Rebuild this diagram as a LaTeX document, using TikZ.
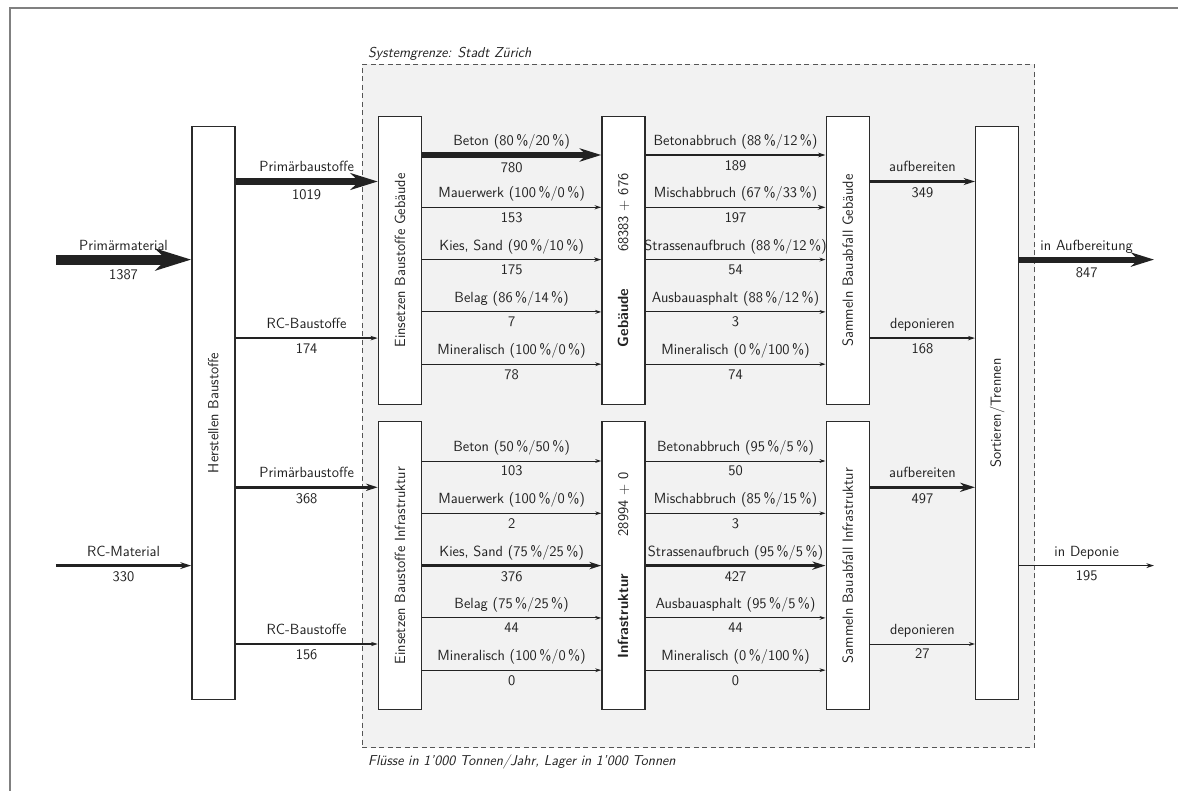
\documentclass[tikz,border=0pt]{standalone}
\usepackage{fontspec}
\usetikzlibrary{arrows.meta}
\definecolor{ink}{HTML}{222222}
\definecolor{boxc}{HTML}{2B2B2B}
\definecolor{framec}{HTML}{808080}
\definecolor{dashc}{HTML}{555555}
\definecolor{sysfill}{HTML}{F2F2F2}
\newcommand\flowarr[6]{\draw[flow=#3] (#1) -- node[lab] (#6l) {#4} node[num=#3] (#6n) {#5} (#2);}
\begin{document}
\begin{tikzpicture}[x=1pt,y=-1pt,
  font=\sffamily\fontsize{14.7}{17}\selectfont,
  box/.style={draw=boxc, fill=white, line width=1.4pt, minimum width=43pt, inner sep=0pt},
  rot/.style={rotate=90, inner sep=0pt, text=ink},
  flow/.style={draw=ink, line width=#1pt, -{Stealth[length=3pt 3.3, width=2pt 2.0, inset=1pt 1.0]}},
  lab/.style={anchor=base, yshift=9.5pt, inner sep=0pt, text=ink},
  num/.style={anchor=base, yshift={-(14.5pt+0.5*#1pt)}, inner sep=0pt, text=ink},
  sysbox/.style={draw=dashc, fill=sysfill, dash pattern=on 5pt off 3.5pt, line width=0.9pt, inner sep=0pt},
  note/.style={font=\sffamily\itshape\fontsize{14.3}{16}\selectfont, inner sep=0pt, text=ink}]
\useasboundingbox (0,0) rectangle (1178,791);
% outer frame
\draw[framec, line width=1.3pt] (10,791) -- (10,8) -- (1178,8);
% system boundary
\node[sysbox, minimum width=672.2pt, minimum height=683.4pt] (sys) at (698.5,406) {};
\node[note, anchor=base west] (sysl) at (368,57.5) {Systemgrenze: Stadt Zürich};
\node[note, anchor=base west] (foot) at (368,765) {Flüsse in 1’000 Tonnen/Jahr, Lager in 1’000 Tonnen};
% processes
\node[box, minimum height=573pt] (herst) at (213.35,412.85) {};
\node[box, minimum height=288pt] (einsG) at (399.9,260.35) {};
\node[box, minimum height=288pt] (einsI) at (399.9,565.5) {};
\node[box, minimum height=288pt] (geb) at (623.4,260.35) {};
\node[box, minimum height=288pt] (infra) at (623.4,565.5) {};
\node[box, minimum height=288pt] (samG) at (847.7,260.35) {};
\node[box, minimum height=288pt] (samI) at (847.7,565.5) {};
\node[box, minimum height=573pt] (sort) at (997.15,412.85) {};
\node[rot] (hersttxt) at (herst) {Herstellen Baustoffe};
\node[rot] (einsGtxt) at (einsG) {Einsetzen Baustoffe Gebäude};
\node[rot] (einsItxt) at (einsI) {Einsetzen Baustoffe Infrastruktur};
\node[rot] (gebtxt) at (geb) {\textbf{Gebäude}\hspace{37pt}68383 + 676};
\node[rot] (infratxt) at (infra) {\textbf{Infrastruktur}\hspace{38pt}28994 + 0};
\node[rot] (samGtxt) at (samG) {Sammeln Bauabfall Gebäude};
\node[rot] (samItxt) at (samI) {Sammeln Bauabfall Infrastruktur};
\node[rot] (sorttxt) at (sort) {Sortieren/Trennen};
% row levels
\coordinate (g1) at (0,155);
\coordinate (g2) at (0,207.3);
\coordinate (g3) at (0,259.6);
\coordinate (g4) at (0,311.9);
\coordinate (g5) at (0,364.2);
\coordinate (gp) at (0,181.5);
\coordinate (gr) at (0,338.1);
\coordinate (i1) at (0,461);
\coordinate (i2) at (0,513.3);
\coordinate (i3) at (0,565.6);
\coordinate (i4) at (0,617.9);
\coordinate (i5) at (0,670.2);
\coordinate (ip) at (0,487.3);
\coordinate (ir) at (0,644);
\coordinate (pmS) at (55.9,259.6);
\coordinate (rcS) at (55.9,565.6);
\coordinate (outA) at (1154,259.6);
\coordinate (outD) at (1154,565.6);
% inputs
\flowarr{pmS}{herst.west |- g3}{9.9}{Primärmaterial}{1387}{pm}
\flowarr{rcS}{herst.west |- i3}{2.36}{RC-Material}{330}{rcm}
\flowarr{herst.east |- gp}{einsG.west |- gp}{7.28}{Primärbaustoffe}{1019}{pbg}
\flowarr{herst.east |- gr}{einsG.west |- gr}{1.24}{RC-Baustoffe}{174}{rbg}
\flowarr{herst.east |- ip}{einsI.west |- ip}{2.63}{Primärbaustoffe}{368}{pbi}
\flowarr{herst.east |- ir}{einsI.west |- ir}{1.11}{RC-Baustoffe}{156}{rbi}
% Einsetzen -> Gebaeude
\flowarr{einsG.east |- g1}{geb.west |- g1}{5.57}{Beton (80\,\%/20\,\%)}{780}{eg1}
\flowarr{einsG.east |- g2}{geb.west |- g2}{1.09}{Mauerwerk (100\,\%/0\,\%)}{153}{eg2}
\flowarr{einsG.east |- g3}{geb.west |- g3}{1.25}{Kies, Sand (90\,\%/10\,\%)}{175}{eg3}
\flowarr{einsG.east |- g4}{geb.west |- g4}{0.9}{Belag (86\,\%/14\,\%)}{7}{eg4}
\flowarr{einsG.east |- g5}{geb.west |- g5}{0.9}{Mineralisch (100\,\%/0\,\%)}{78}{eg5}
% Gebaeude -> Sammeln
\flowarr{geb.east |- g1}{samG.west |- g1}{1.35}{Betonabbruch (88\,\%/12\,\%)}{189}{gs1}
\flowarr{geb.east |- g2}{samG.west |- g2}{1.41}{Mischabbruch (67\,\%/33\,\%)}{197}{gs2}
\flowarr{geb.east |- g3}{samG.west |- g3}{0.9}{Strassenaufbruch (88\,\%/12\,\%)}{54}{gs3}
\flowarr{geb.east |- g4}{samG.west |- g4}{0.9}{Ausbauasphalt (88\,\%/12\,\%)}{3}{gs4}
\flowarr{geb.east |- g5}{samG.west |- g5}{0.9}{Mineralisch (0\,\%/100\,\%)}{74}{gs5}
% Einsetzen -> Infrastruktur
\flowarr{einsI.east |- i1}{infra.west |- i1}{0.9}{Beton (50\,\%/50\,\%)}{103}{ei1}
\flowarr{einsI.east |- i2}{infra.west |- i2}{0.9}{Mauerwerk (100\,\%/0\,\%)}{2}{ei2}
\flowarr{einsI.east |- i3}{infra.west |- i3}{2.69}{Kies, Sand (75\,\%/25\,\%)}{376}{ei3}
\flowarr{einsI.east |- i4}{infra.west |- i4}{0.9}{Belag (75\,\%/25\,\%)}{44}{ei4}
\flowarr{einsI.east |- i5}{infra.west |- i5}{0.9}{Mineralisch (100\,\%/0\,\%)}{0}{ei5}
% Infrastruktur -> Sammeln
\flowarr{infra.east |- i1}{samI.west |- i1}{0.9}{Betonabbruch (95\,\%/5\,\%)}{50}{is1}
\flowarr{infra.east |- i2}{samI.west |- i2}{0.9}{Mischabbruch (85\,\%/15\,\%)}{3}{is2}
\flowarr{infra.east |- i3}{samI.west |- i3}{3.05}{Strassenaufbruch (95\,\%/5\,\%)}{427}{is3}
\flowarr{infra.east |- i4}{samI.west |- i4}{0.9}{Ausbauasphalt (95\,\%/5\,\%)}{44}{is4}
\flowarr{infra.east |- i5}{samI.west |- i5}{0.9}{Mineralisch (0\,\%/100\,\%)}{0}{is5}
% Sammeln -> Sortieren
\flowarr{samG.east |- gp}{sort.west |- gp}{2.49}{aufbereiten}{349}{sa1}
\flowarr{samG.east |- gr}{sort.west |- gr}{1.2}{deponieren}{168}{sd1}
\flowarr{samI.east |- ip}{sort.west |- ip}{3.55}{aufbereiten}{497}{sa2}
\flowarr{samI.east |- ir}{sort.west |- ir}{0.9}{deponieren}{27}{sd2}
% outputs
\flowarr{sort.east |- g3}{outA}{6.05}{in Aufbereitung}{847}{oa}
\flowarr{sort.east |- i3}{outD}{1.39}{in Deponie}{195}{od}
\end{tikzpicture}
\end{document}
